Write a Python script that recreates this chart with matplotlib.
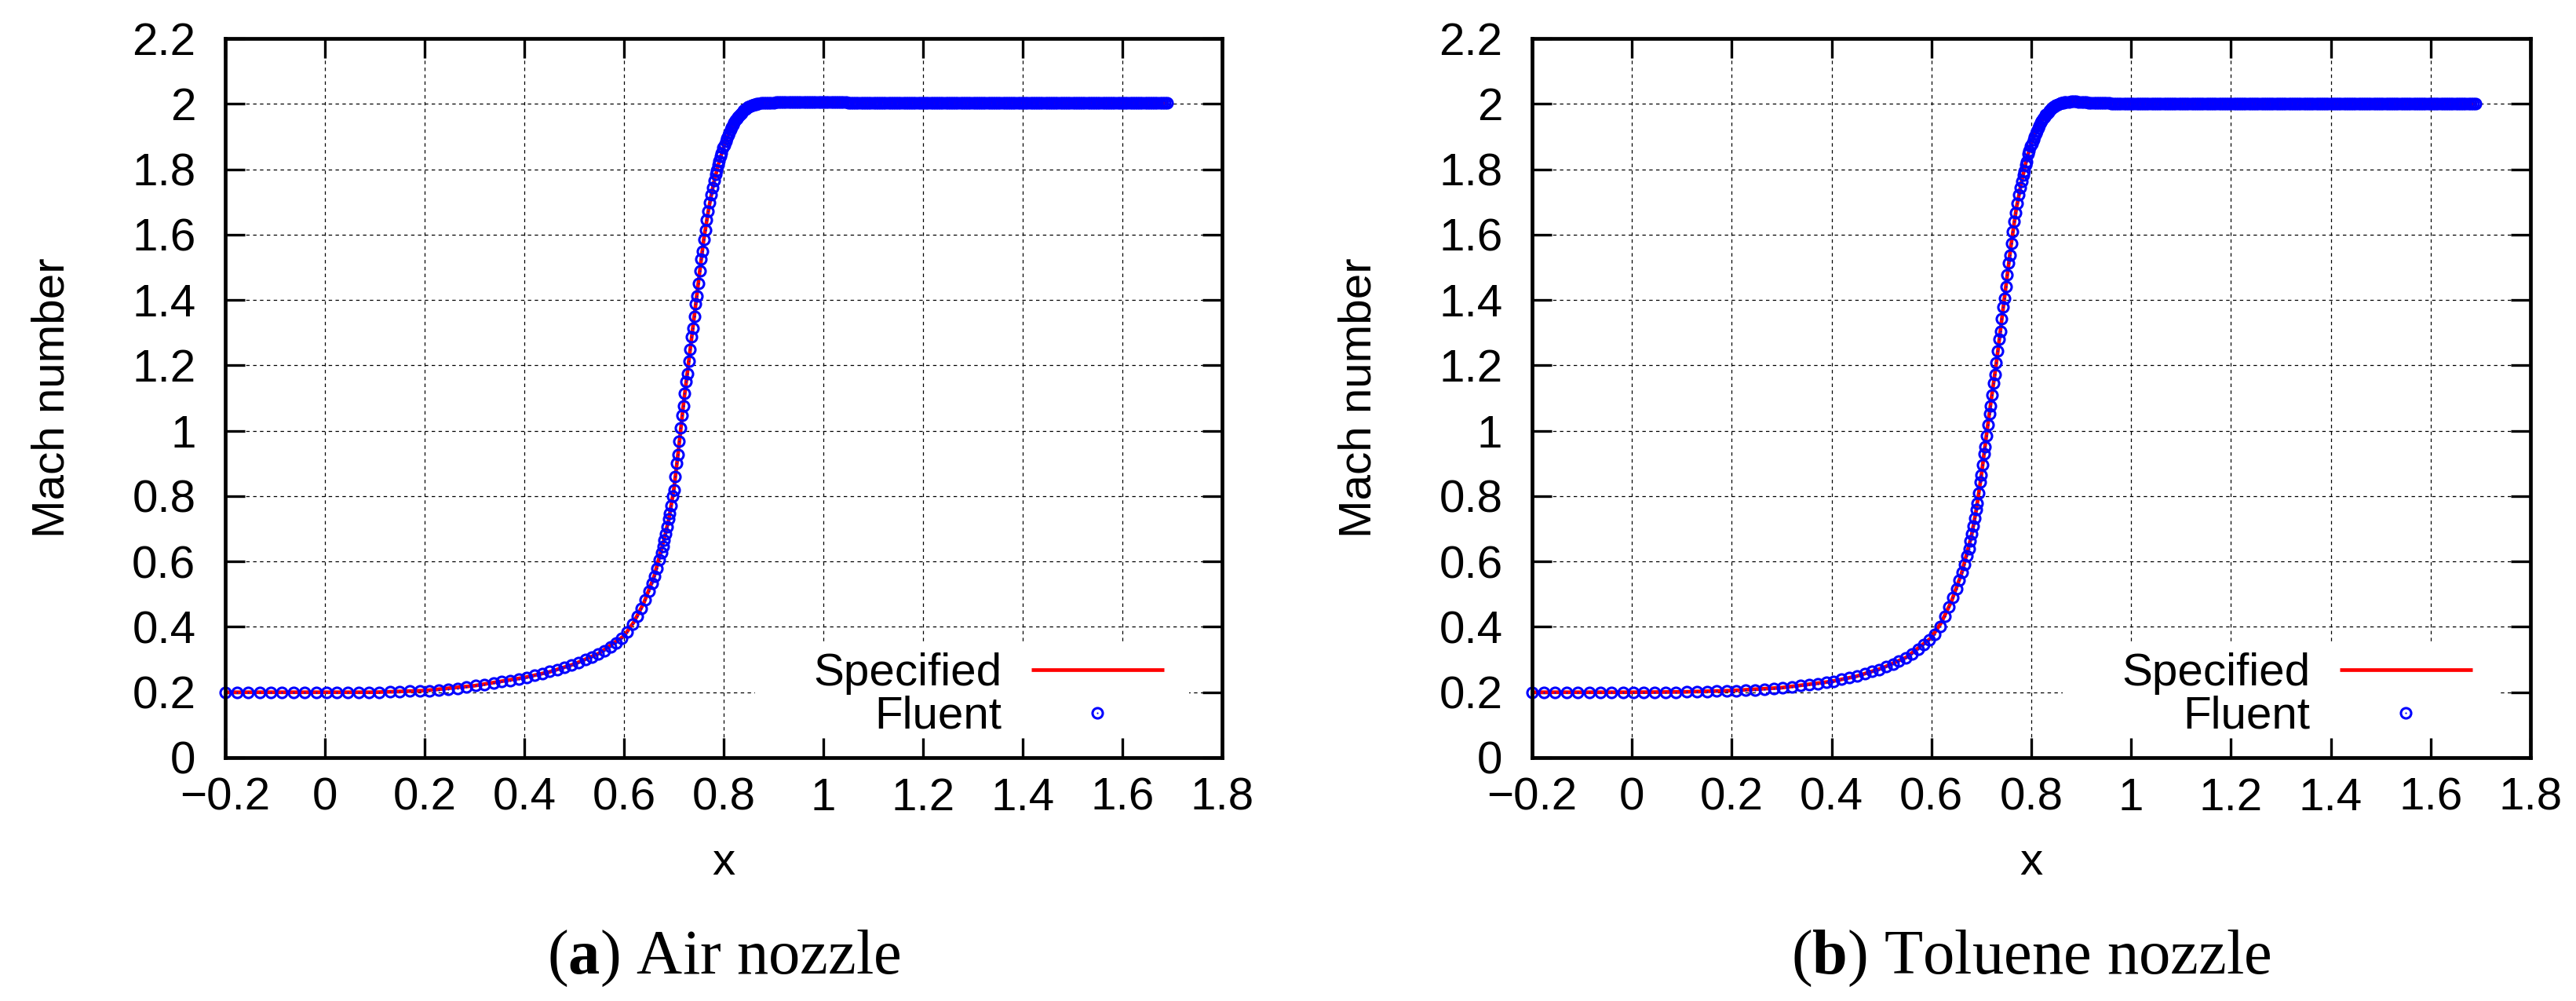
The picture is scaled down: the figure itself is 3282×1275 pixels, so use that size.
import matplotlib
matplotlib.use('Agg')
import matplotlib.pyplot as plt
from matplotlib.patches import Rectangle
from matplotlib.legend_handler import HandlerTuple

# ---------------- data ----------------
# "Specified" curves
x_spec = [-0.2, -0.1, 0.0, 0.1, 0.2, 0.3, 0.4, 0.45, 0.5, 0.55,
          0.6, 0.62, 0.64, 0.66, 0.68, 0.69, 0.70, 0.71, 0.72, 0.73,
          0.74, 0.75, 0.76, 0.77, 0.78, 0.79, 0.80, 0.81, 0.82, 0.83,
          0.84, 0.85, 0.86, 0.87, 0.88, 0.90, 0.95, 1.0, 1.1, 1.2,
          1.3, 1.4, 1.5, 1.6, 1.69]
m_spec_air = [0.200, 0.200, 0.200, 0.200, 0.205, 0.220, 0.245, 0.262, 0.286, 0.319,
              0.372, 0.415, 0.474, 0.552, 0.665, 0.730, 0.820, 0.950, 1.090, 1.213,
              1.338, 1.463, 1.585, 1.680, 1.758, 1.818, 1.868, 1.908, 1.939, 1.962,
              1.980, 1.991, 1.998, 2.001, 2.003, 2.004, 2.005, 2.005, 2.005, 2.004,
              2.004, 2.004, 2.003, 2.003, 2.002]
m_spec_tol = [0.200, 0.200, 0.200, 0.201, 0.205, 0.214, 0.233, 0.249, 0.273, 0.307,
              0.367, 0.414, 0.478, 0.562, 0.677, 0.760, 0.864, 0.985, 1.098, 1.207,
              1.330, 1.453, 1.574, 1.680, 1.758, 1.826, 1.880, 1.917, 1.945, 1.968,
              1.986, 1.999, 2.004, 2.006, 2.007, 2.006, 2.002, 2.001, 2.000, 2.000,
              2.000, 2.000, 2.000, 2.000, 2.000]

# "Fluent" sample positions
x_fl_inlet = [-0.200, -0.177, -0.154, -0.131, -0.109, -0.086, -0.063, -0.041, -0.018, 0.003,
              0.024, 0.046, 0.067, 0.088, 0.109, 0.130, 0.150, 0.170, 0.190, 0.209,
              0.228, 0.247, 0.266, 0.284, 0.302, 0.320, 0.338, 0.355, 0.372, 0.389,
              0.404, 0.420, 0.436, 0.451, 0.466, 0.481, 0.495, 0.509, 0.523, 0.535,
              0.548, 0.561, 0.573, 0.584, 0.596, 0.607]
x_fl_throat = [0.617, 0.627, 0.635, 0.643, 0.650, 0.656, 0.661, 0.666, 0.671, 0.675,
               0.678, 0.681, 0.684, 0.687, 0.690, 0.692, 0.695, 0.698, 0.700, 0.703,
               0.706, 0.708, 0.711, 0.714, 0.717, 0.719, 0.722, 0.725, 0.727, 0.730,
               0.733, 0.736, 0.738, 0.741, 0.744, 0.746, 0.749, 0.752, 0.755, 0.757,
               0.760, 0.763, 0.766, 0.769, 0.772, 0.775, 0.778, 0.781, 0.784, 0.786,
               0.789, 0.791, 0.794, 0.796, 0.799, 0.801, 0.804, 0.806, 0.809, 0.811,
               0.814, 0.816, 0.819, 0.821, 0.824, 0.826, 0.829, 0.831, 0.834, 0.836,
               0.839, 0.841, 0.844, 0.846, 0.849, 0.851, 0.854, 0.856, 0.859, 0.861,
               0.864, 0.866, 0.869]
x_fl_outlet = [0.875, 0.880, 0.885, 0.890, 0.895, 0.900, 0.905, 0.910, 0.915, 0.920,
               0.925, 0.930, 0.935, 0.940, 0.945, 0.950, 0.955, 0.960, 0.965, 0.970,
               0.975, 0.980, 0.985, 0.990, 0.995, 1.000, 1.005, 1.010, 1.015, 1.020,
               1.025, 1.030, 1.035, 1.040, 1.045, 1.050, 1.055, 1.060, 1.065, 1.070,
               1.075, 1.080, 1.085, 1.090, 1.095, 1.100, 1.105, 1.110, 1.115, 1.120,
               1.125, 1.130, 1.135, 1.140, 1.145, 1.150, 1.155, 1.160, 1.165, 1.170,
               1.175, 1.180, 1.185, 1.190, 1.195, 1.200, 1.205, 1.210, 1.215, 1.220,
               1.225, 1.230, 1.235, 1.240, 1.245, 1.250, 1.255, 1.260, 1.265, 1.270,
               1.275, 1.280, 1.285, 1.290, 1.295, 1.300, 1.305, 1.310, 1.315, 1.320,
               1.325, 1.330, 1.335, 1.340, 1.345, 1.350, 1.355, 1.360, 1.365, 1.370,
               1.375, 1.380, 1.385, 1.390, 1.395, 1.400, 1.405, 1.410, 1.415, 1.420,
               1.425, 1.430, 1.435, 1.440, 1.445, 1.450, 1.455, 1.460, 1.465, 1.470,
               1.475, 1.480, 1.485, 1.490, 1.495, 1.500, 1.505, 1.510, 1.515, 1.520,
               1.525, 1.530, 1.535, 1.540, 1.545, 1.550, 1.555, 1.560, 1.565, 1.570,
               1.575, 1.580, 1.585, 1.590, 1.595, 1.600, 1.605, 1.610, 1.615, 1.620,
               1.625, 1.630, 1.635, 1.640, 1.645, 1.650, 1.655, 1.660, 1.665, 1.670,
               1.675, 1.680, 1.685, 1.690]

# Fluent Mach numbers, air nozzle
m_fl_air_inlet = [0.200, 0.200, 0.200, 0.200, 0.200, 0.200, 0.200, 0.200, 0.200, 0.200,
                  0.200, 0.200, 0.200, 0.200, 0.200, 0.201, 0.202, 0.203, 0.204, 0.205,
                  0.207, 0.209, 0.212, 0.216, 0.220, 0.224, 0.228, 0.232, 0.236, 0.241,
                  0.246, 0.251, 0.257, 0.263, 0.269, 0.276, 0.283, 0.291, 0.300, 0.308,
                  0.317, 0.327, 0.338, 0.350, 0.364, 0.385]
m_fl_air_throat = [0.408, 0.433, 0.456, 0.482, 0.508, 0.533, 0.556, 0.580, 0.606, 0.628,
                   0.646, 0.665, 0.685, 0.707, 0.730, 0.746, 0.772, 0.800, 0.820, 0.860,
                   0.900, 0.927, 0.967, 1.008, 1.048, 1.077, 1.114, 1.150, 1.175, 1.213,
                   1.250, 1.288, 1.313, 1.350, 1.388, 1.413, 1.450, 1.488, 1.525, 1.549,
                   1.585, 1.615, 1.644, 1.671, 1.697, 1.721, 1.744, 1.765, 1.785, 1.797,
                   1.814, 1.825, 1.840, 1.850, 1.865, 1.874, 1.886, 1.894, 1.905, 1.912,
                   1.922, 1.928, 1.937, 1.942, 1.950, 1.955, 1.961, 1.965, 1.970, 1.973,
                   1.978, 1.981, 1.985, 1.987, 1.990, 1.992, 1.994, 1.995, 1.997, 1.998,
                   1.999, 2.000, 2.001]
m_fl_air_outlet = [2.002, 2.003, 2.003, 2.004, 2.004, 2.004, 2.005, 2.005, 2.005, 2.005,
                   2.005, 2.005, 2.005, 2.005, 2.005, 2.005, 2.005, 2.005, 2.005, 2.005,
                   2.005, 2.005, 2.005, 2.005, 2.005, 2.005, 2.005, 2.005, 2.005, 2.005,
                   2.005, 2.005, 2.005, 2.005, 2.005, 2.004, 2.004, 2.004, 2.004, 2.004,
                   2.004, 2.004, 2.004, 2.004, 2.004, 2.004, 2.004, 2.004, 2.004, 2.004,
                   2.004, 2.004, 2.004, 2.004, 2.004, 2.004, 2.004, 2.004, 2.004, 2.004,
                   2.004, 2.004, 2.004, 2.004, 2.004, 2.004, 2.004, 2.004, 2.004, 2.004,
                   2.004, 2.004, 2.004, 2.004, 2.004, 2.004, 2.004, 2.004, 2.004, 2.004,
                   2.004, 2.004, 2.004, 2.004, 2.004, 2.004, 2.004, 2.004, 2.004, 2.004,
                   2.004, 2.004, 2.004, 2.004, 2.004, 2.004, 2.004, 2.004, 2.004, 2.004,
                   2.004, 2.004, 2.004, 2.004, 2.004, 2.004, 2.004, 2.004, 2.004, 2.004,
                   2.004, 2.004, 2.004, 2.004, 2.004, 2.004, 2.004, 2.004, 2.004, 2.004,
                   2.004, 2.004, 2.004, 2.004, 2.004, 2.003, 2.003, 2.003, 2.003, 2.003,
                   2.003, 2.003, 2.003, 2.003, 2.003, 2.003, 2.003, 2.003, 2.003, 2.003,
                   2.003, 2.003, 2.003, 2.003, 2.003, 2.003, 2.003, 2.003, 2.003, 2.003,
                   2.003, 2.003, 2.003, 2.003, 2.003, 2.003, 2.003, 2.003, 2.003, 2.003,
                   2.003, 2.002, 2.002, 2.002]

# Fluent Mach numbers, toluene nozzle
m_fl_tol_inlet = [0.200, 0.200, 0.200, 0.200, 0.200, 0.200, 0.200, 0.200, 0.200, 0.200,
                  0.200, 0.200, 0.200, 0.200, 0.201, 0.201, 0.202, 0.203, 0.204, 0.205,
                  0.206, 0.207, 0.209, 0.211, 0.214, 0.217, 0.220, 0.223, 0.226, 0.230,
                  0.234, 0.239, 0.244, 0.250, 0.256, 0.263, 0.270, 0.278, 0.286, 0.295,
                  0.305, 0.318, 0.331, 0.345, 0.361, 0.378]
m_fl_tol_throat = [0.402, 0.432, 0.460, 0.490, 0.517, 0.543, 0.567, 0.592, 0.617, 0.640,
                   0.662, 0.685, 0.708, 0.733, 0.760, 0.778, 0.810, 0.842, 0.864, 0.897,
                   0.929, 0.951, 0.985, 1.019, 1.053, 1.076, 1.110, 1.146, 1.171, 1.207,
                   1.244, 1.280, 1.305, 1.342, 1.379, 1.404, 1.441, 1.478, 1.514, 1.538,
                   1.574, 1.609, 1.640, 1.668, 1.695, 1.721, 1.744, 1.764, 1.783, 1.795,
                   1.813, 1.824, 1.846, 1.856, 1.870, 1.879, 1.891, 1.899, 1.910, 1.917,
                   1.927, 1.934, 1.943, 1.948, 1.956, 1.960, 1.966, 1.970, 1.975, 1.978,
                   1.983, 1.986, 1.990, 1.992, 1.995, 1.997, 1.999, 2.001, 2.002, 2.003,
                   2.004, 2.005, 2.006]
m_fl_tol_outlet = [2.006, 2.007, 2.007, 2.007, 2.006, 2.006, 2.005, 2.005, 2.004, 2.004,
                   2.003, 2.003, 2.003, 2.002, 2.002, 2.002, 2.002, 2.001, 2.001, 2.001,
                   2.001, 2.001, 2.001, 2.001, 2.001, 2.001, 2.001, 2.001, 2.001, 2.001,
                   2.001, 2.001, 2.001, 2.001, 2.001, 2.001, 2.001, 2.001, 2.001, 2.001,
                   2.001, 2.001, 2.001, 2.001, 2.001, 2.001, 2.001, 2.001, 2.001, 2.001,
                   2.001, 2.001, 2.001, 2.001, 2.001, 2.001, 2.001, 2.001, 2.001, 2.001,
                   2.001, 2.001, 2.001, 2.001, 2.001, 2.001, 2.001, 2.001, 2.001, 2.001,
                   2.000, 2.000, 2.000, 2.000, 2.000, 2.000, 2.000, 2.000, 2.000, 2.000,
                   2.000, 2.000, 2.000, 2.000, 2.000, 2.000, 2.000, 2.000, 2.000, 2.000,
                   2.000, 2.000, 2.000, 2.000, 2.000, 2.000, 2.000, 2.000, 2.000, 2.000,
                   2.000, 2.000, 2.000, 2.000, 2.000, 2.000, 2.000, 2.000, 2.000, 2.000,
                   2.000, 2.000, 2.000, 2.000, 2.000, 2.000, 2.000, 2.000, 2.000, 2.000,
                   2.000, 2.000, 2.000, 2.000, 2.000, 2.000, 2.000, 2.000, 2.000, 2.000,
                   2.000, 2.000, 2.000, 2.000, 2.000, 2.000, 2.000, 2.000, 2.000, 2.000,
                   2.000, 2.000, 2.000, 2.000, 2.000, 2.000, 2.000, 2.000, 2.000, 2.000,
                   2.000, 2.000, 2.000, 2.000, 2.000, 2.000, 2.000, 2.000, 2.000, 2.000,
                   2.000, 2.000, 2.000, 2.000]

x_ticks = [-0.2, 0.0, 0.2, 0.4, 0.6, 0.8, 1.0, 1.2, 1.4, 1.6, 1.8]
x_tick_labels = ['\u22120.2', '0', '0.2', '0.4', '0.6', '0.8', '1', '1.2', '1.4', '1.6', '1.8']
y_ticks = [0.0, 0.2, 0.4, 0.6, 0.8, 1.0, 1.2, 1.4, 1.6, 1.8, 2.0, 2.2]
y_tick_labels = ['0', '0.2', '0.4', '0.6', '0.8', '1', '1.2', '1.4', '1.6', '1.8', '2', '2.2']
series_labels = ['Specified', 'Fluent']
panel_letters = ['a', 'b']
panel_titles = ['Air nozzle', 'Toluene nozzle']

# ---------------- styling ----------------
plt.rcParams['font.family'] = ['Liberation Sans', 'DejaVu Sans']
plt.rcParams['mathtext.fontset'] = 'custom'
plt.rcParams['mathtext.bf'] = 'Liberation Serif:bold'
plt.rcParams['mathtext.rm'] = 'Liberation Serif'

W, H = 3282, 1275
fig = plt.figure(figsize=(W / 100, H / 100), dpi=100)

FS = 42
ax_bottom_px, ax_top_px = 965, 49
panel_left_px = [287, 1952]
panel_width_px = [1270, 1272]

x_fl = x_fl_inlet + x_fl_throat + x_fl_outlet
spec_sets = [m_spec_air, m_spec_tol]
fl_sets = [m_fl_air_inlet + m_fl_air_throat + m_fl_air_outlet,
           m_fl_tol_inlet + m_fl_tol_throat + m_fl_tol_outlet]

for i in range(2):
    l = panel_left_px[i] / W
    w = panel_width_px[i] / W
    b = 1 - ax_bottom_px / H
    h = (ax_bottom_px - ax_top_px) / H
    ax = fig.add_axes([l, b, w, h])
    ax.set_xlim(-0.2, 1.8)
    ax.set_ylim(0, 2.2)
    ax.set_xticks(x_ticks)
    ax.set_xticklabels(x_tick_labels)
    ax.set_yticks(y_ticks)
    ax.set_yticklabels(y_tick_labels)
    ax.set_axisbelow(True)
    ax.grid(True, color='black', lw=0.9, ls=(0, (3.5, 3.5)))
    ax.tick_params(axis='both', which='major', direction='in', top=True, right=True,
                   length=18, width=2.4, labelsize=FS, color='black')
    ax.tick_params(axis='y', pad=27)
    ax.tick_params(axis='x', pad=18)
    for sp in ax.spines.values():
        sp.set_linewidth(3.4)
        sp.set_zorder(6)

    # white key area (covers grid)
    ax.add_patch(Rectangle((0.5315, 0.0273), 0.4354, 0.131, transform=ax.transAxes,
                           facecolor='white', edgecolor='none', zorder=1))

    ln, = ax.plot(x_spec, spec_sets[i], color='red', lw=3.4, zorder=2,
                  solid_capstyle='butt')
    circ, = ax.plot(x_fl, fl_sets[i], ls='none', marker='o', ms=9.4, mfc='none',
                    mec='blue', mew=2.2, zorder=3, clip_on=False)
    dot, = ax.plot(x_fl, fl_sets[i], ls='none', marker='o', ms=1.6, mfc='blue',
                   mec='none', zorder=4, clip_on=False)

    ax.set_xlabel('x', fontsize=FS, labelpad=20)
    ax.set_ylabel('Mach number', fontsize=FS, labelpad=54)

    ax.legend([ln, (circ, dot)], series_labels,
              handler_map={tuple: HandlerTuple(ndivide=1)},
              loc='lower right', bbox_to_anchor=((1483 - 287) / 1270, 0.0273),
              bbox_transform=ax.transAxes, markerfirst=False, frameon=False,
              fontsize=FS, handlelength=2.9, handletextpad=0.64,
              labelspacing=0.01, borderpad=0, borderaxespad=0, numpoints=1)

    cx = (panel_left_px[i] + panel_width_px[i] / 2) / W
    fig.text(cx, 1 - 1240 / H, '($\\mathbf{' + panel_letters[i] + '}$) ' + panel_titles[i],
             ha='center', va='baseline', fontsize=58, family='Liberation Serif')

fig.savefig('out.png', dpi=100)
